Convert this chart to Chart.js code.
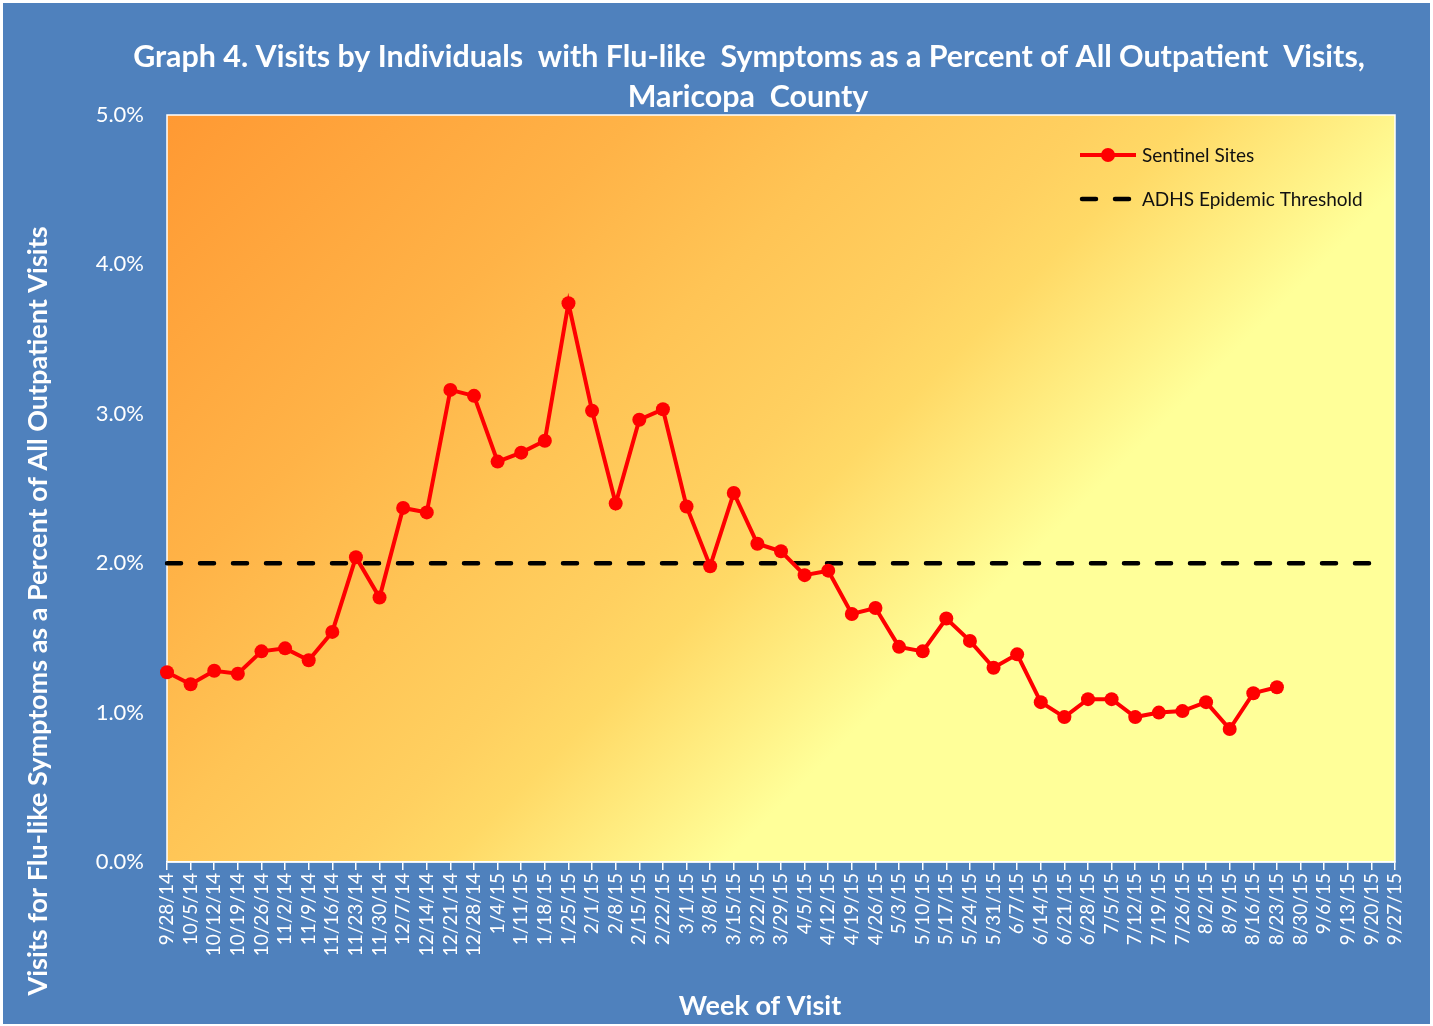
<!DOCTYPE html>
<html>
<head>
<meta charset="utf-8">
<script src="https://cdn.jsdelivr.net/npm/chart.js@4.4.0/dist/chart.umd.min.js"></script>
<style>
html,body{margin:0;padding:0;background:#ffffff;overflow:hidden;}
#c{position:absolute;left:0;top:0;}
</style>
</head>
<body>
<canvas id="c" width="1433" height="1026"></canvas>
<script>
// ---- Data ----
const weeks = ["9/28/14","10/5/14","10/12/14","10/19/14","10/26/14","11/2/14","11/9/14","11/16/14","11/23/14","11/30/14","12/7/14","12/14/14","12/21/14","12/28/14","1/4/15","1/11/15","1/18/15","1/25/15","2/1/15","2/8/15","2/15/15","2/22/15","3/1/15","3/8/15","3/15/15","3/22/15","3/29/15","4/5/15","4/12/15","4/19/15","4/26/15","5/3/15","5/10/15","5/17/15","5/24/15","5/31/15","6/7/15","6/14/15","6/21/15","6/28/15","7/5/15","7/12/15","7/19/15","7/26/15","8/2/15","8/9/15","8/16/15","8/23/15","8/30/15","9/6/15","9/13/15","9/20/15","9/27/15"];
const sentinelSites = [1.27,1.19,1.28,1.26,1.41,1.43,1.35,1.54,2.04,1.77,2.37,2.34,3.16,3.12,2.68,2.74,2.82,3.74,3.02,2.40,2.96,3.03,2.38,1.98,2.47,2.13,2.08,1.92,1.95,1.66,1.70,1.44,1.41,1.63,1.48,1.30,1.39,1.07,0.97,1.09,1.09,0.97,1.00,1.01,1.07,0.89,1.13,1.17];
const epidemicThreshold = [2.0,2.0,2.0,2.0,2.0,2.0,2.0,2.0,2.0,2.0,2.0,2.0,2.0,2.0,2.0,2.0,2.0,2.0,2.0,2.0,2.0,2.0,2.0,2.0,2.0,2.0,2.0,2.0,2.0,2.0,2.0,2.0,2.0,2.0,2.0,2.0,2.0,2.0,2.0,2.0,2.0,2.0,2.0,2.0,2.0,2.0,2.0,2.0,2.0,2.0,2.0,2.0];
const yTicks = [0,1,2,3,4,5];
const seriesNames = ["Sentinel Sites","ADHS Epidemic Threshold"];
const titleLines = ["Graph 4. Visits by Individuals  with Flu-like  Symptoms as a Percent of All Outpatient  Visits,","Maricopa  County"];
const xTitle = "Week of Visit";
const yTitle = "Visits for Flu-like Symptoms as a Percent of All Outpatient Visits";

const FONT = "Lato, 'Open Sans', sans-serif";
const BLUE = "#4F81BD";
const DASH = [14, 19];

const bgPlugin = {
  id: "bg",
  beforeDraw(chart) {
    const ctx = chart.ctx, a = chart.chartArea;
    ctx.save();
    ctx.fillStyle = "#ffffff";
    ctx.fillRect(0, 0, chart.width, chart.height);
    ctx.fillStyle = BLUE;
    ctx.fillRect(3, 3, chart.width - 6, chart.height - 5);
    const S = ((a.right - a.left) + (a.bottom - a.top)) / 2;
    const g = ctx.createLinearGradient(a.left, a.top, a.left + S, a.top + S);
    g.addColorStop(0, "#FF9933");
    g.addColorStop(0.24, "#FFB347");
    g.addColorStop(0.36, "#FFC455");
    g.addColorStop(0.47, "#FFD060");
    g.addColorStop(0.52, "#FFD966");
    g.addColorStop(0.66, "#FFFF99");
    g.addColorStop(1, "#FFFF99");
    ctx.fillStyle = g;
    ctx.fillRect(a.left, a.top, a.right - a.left, a.bottom - a.top);
    ctx.strokeStyle = "#ffffff";
    ctx.lineWidth = 1.5;
    ctx.strokeRect(a.left, a.top, a.right - a.left, a.bottom - a.top);
    ctx.restore();
  }
};

const textPlugin = {
  id: "texts",
  afterDraw(chart) {
    const ctx = chart.ctx;
    ctx.save();
    // Title
    ctx.fillStyle = "#ffffff";
    ctx.textAlign = "center";
    ctx.textBaseline = "middle";
    ctx.font = "bold 30.4px " + FONT;
    ctx.fillText(titleLines[0], 749, 57);
    ctx.fillText(titleLines[1], 748, 97);
    // X title
    ctx.font = "bold 27px " + FONT;
    ctx.fillText(xTitle, 760, 1006);
    // Y title
    ctx.save();
    ctx.translate(38, 611);
    ctx.rotate(-Math.PI / 2);
    ctx.font = "bold 27px " + FONT;
    ctx.fillText(yTitle, 0, 0);
    ctx.restore();

    // Legend
    ctx.strokeStyle = "#FF0000";
    ctx.lineWidth = 4;
    ctx.beginPath(); ctx.moveTo(1080, 155); ctx.lineTo(1136, 155); ctx.stroke();
    ctx.fillStyle = "#FF0000";
    ctx.beginPath(); ctx.arc(1108, 155, 7, 0, Math.PI * 2); ctx.fill();
    ctx.strokeStyle = "#000000";
    ctx.lineWidth = 4.5;
    ctx.lineCap = "round";
    ctx.setLineDash(DASH);
    ctx.beginPath(); ctx.moveTo(1082, 199); ctx.lineTo(1132, 199); ctx.stroke();
    ctx.setLineDash([]);
    ctx.fillStyle = "#111111";
    ctx.font = "19px " + FONT;
    ctx.textAlign = "left";
    ctx.fillText(seriesNames[0], 1142, 156);
    ctx.fillText(seriesNames[1], 1142, 200);
    ctx.restore();
  }
};

const chart = new Chart(document.getElementById("c"), {
  type: "line",
  data: {
    labels: weeks,
    datasets: [
      {
        label: seriesNames[0],
        data: sentinelSites,
        borderColor: "#FF0000",
        backgroundColor: "#FF0000",
        borderWidth: 4,
        pointRadius: 7,
        pointHoverRadius: 7,
        pointBorderWidth: 0,
        pointBackgroundColor: "#FF0000",
        tension: 0,
        order: 0
      },
      {
        label: seriesNames[1],
        data: epidemicThreshold,
        borderColor: "#000000",
        borderWidth: 4.5,
        borderDash: DASH,
        borderCapStyle: "round",
        pointRadius: 0,
        pointHoverRadius: 0,
        tension: 0,
        order: 1
      }
    ]
  },
  options: {
    responsive: false,
    animation: false,
    events: [],
    layout: { padding: { left: 22, right: 38, top: 115, bottom: 2 } },
    plugins: {
      legend: { display: false },
      tooltip: { enabled: false },
      title: { display: false }
    },
    scales: {
      x: {
        type: "category",
        offset: false,
        grid: { display: true, drawOnChartArea: false, drawTicks: true, tickLength: 8, color: "#ffffff", lineWidth: 1.5 },
        border: { display: true, color: "#ffffff", width: 1.5 },
        ticks: { color: "#ffffff", font: { family: FONT, size: 19 }, maxRotation: 90, minRotation: 90, autoSkip: false, padding: 3 },
        title: { display: false },
        afterFit(s) { s.height = 162; }
      },
      y: {
        min: 0,
        max: 5,
        afterBuildTicks(s) { s.ticks = yTicks.map(v => ({ value: v })); },
        ticks: { color: "#ffffff", font: { family: FONT, size: 22 }, padding: 23, callback: v => v.toFixed(1) + "%" },
        grid: { display: false, drawTicks: false },
        border: { display: false },
        title: { display: false },
        afterFit(s) { s.width = 145; }
      }
    }
  },
  plugins: [bgPlugin, textPlugin]
});
</script>
</body>
</html>
